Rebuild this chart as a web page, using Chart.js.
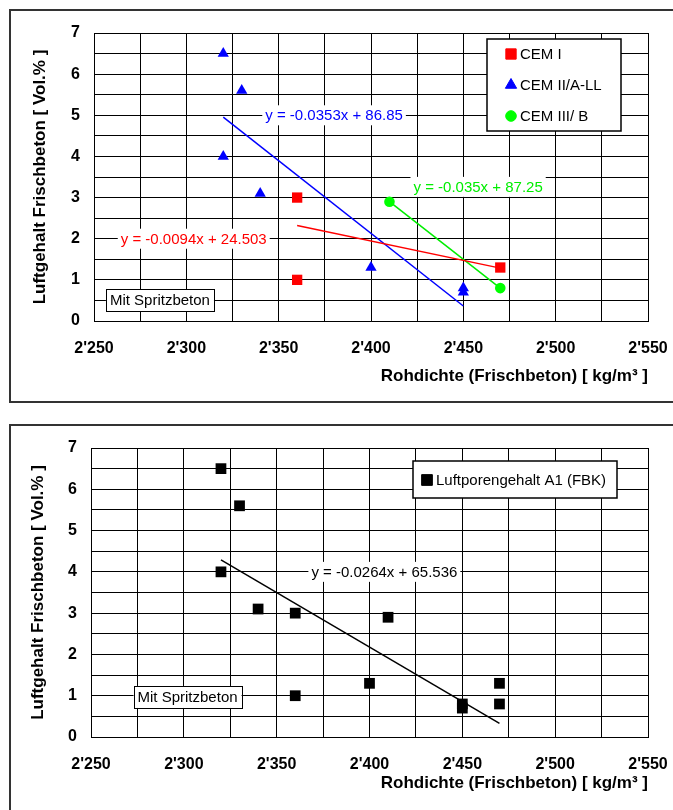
<!DOCTYPE html>
<html>
<head>
<meta charset="utf-8">
<script src="https://cdn.jsdelivr.net/npm/chart.js@4.4.1/dist/chart.umd.min.js"></script>
<style>
  html, body { margin: 0; padding: 0; background: #fff; }
  #wrap { position: relative; width: 673px; height: 810px; overflow: hidden; }
  canvas { position: absolute; left: 0; }
  #cTop { top: 0; }
  #cBottom { top: 410px; }
</style>
</head>
<body>
<div id="wrap">
  <canvas id="cTop" width="673" height="410"></canvas>
  <canvas id="cBottom" width="673" height="400"></canvas>
</div>
<script>
// Rohdichte [kg/m3] und Luftgehalt [Vol.%] je Zementart
const cem1X = [2360, 2360, 2470];
const cem1Y = [3.0, 1.0, 1.3];
const cem2X = [2320, 2330, 2320, 2340, 2400, 2450, 2450];
const cem2Y = [6.5, 5.6, 4.0, 3.1, 1.3, 0.8, 0.7];
const cem3X = [2410, 2470];
const cem3Y = [2.9, 0.8];

// alle Messungen zusammen (unteres Diagramm)
const allX = [2320, 2330, 2320, 2340, 2360, 2360, 2400, 2410, 2450, 2450, 2470, 2470];
const allY = [6.5, 5.6, 4.0, 3.1, 3.0, 1.0, 1.3, 2.9, 0.8, 0.7, 1.3, 0.8];

// lineare Trendlinien: [Steigung, Achsenabschnitt]
const trendCem1 = [-0.0094, 24.503];
const trendCem2 = [-0.0353, 86.85];
const trendCem3 = [-0.035, 87.25];
const trendAll = [-0.0264, 65.536];

// Achsenbeschriftungen
const xTickValues = [2250, 2300, 2350, 2400, 2450, 2500, 2550];
const xTickLabels = ["2'250", "2'300", "2'350", "2'400", "2'450", "2'500", "2'550"];
const yTickValues = [0, 1, 2, 3, 4, 5, 6, 7];
const yTickLabels = ['0', '1', '2', '3', '4', '5', '6', '7'];

const FONT = 'Arial, "Liberation Sans", sans-serif';

const pts = (xs, ys) => xs.map((x, i) => ({ x: x, y: ys[i] }));

function trendText(t) {
  return 'y = ' + t[0] + 'x + ' + t[1];
}

// Trendlinie vom kleinsten bis zum größten x-Wert der Reihe
function trendDataset(t, xs, color) {
  const x0 = Math.min(...xs), x1 = Math.max(...xs);
  return {
    type: 'line',
    isTrend: true,
    data: [{ x: x0, y: t[0] * x0 + t[1] }, { x: x1, y: t[0] * x1 + t[1] }],
    borderColor: color,
    borderWidth: 1.5,
    pointRadius: 0,
    fill: false
  };
}

// Rahmen, Gleichungen, Textfeld und Legende
const extrasPlugin = {
  id: 'extras',
  beforeDraw(chart, args, opts) {
    const ctx = chart.ctx;
    ctx.save();
    ctx.fillStyle = '#fff';
    ctx.fillRect(0, 0, chart.width, chart.height);
    ctx.strokeStyle = '#333';
    ctx.lineWidth = 2;
    const f = opts.frame;
    ctx.strokeRect(f[0], f[1], f[2], f[3]);
    ctx.restore();
  },
  afterDatasetsDraw(chart, args, opts) {
    const ctx = chart.ctx;
    const xs = chart.scales.x, ys = chart.scales.y;
    const area = chart.chartArea;
    ctx.save();
    ctx.font = '15px ' + FONT;
    ctx.textBaseline = 'middle';

    // Gleichungen der Trendlinien
    (opts.trendLabels || []).forEach(l => {
      const t = trendText(l.trend);
      const w = ctx.measureText(t).width;
      const px = xs.getPixelForValue(l.x), py = ys.getPixelForValue(l.y);
      ctx.fillStyle = '#fff';
      ctx.fillRect(px - w / 2 - 3, py - 10, w + 6, 20);
      ctx.fillStyle = l.color;
      ctx.textAlign = 'center';
      ctx.fillText(t, px, py + 1);
    });

    // Textfeld "Mit Spritzbeton"
    const n = opts.note;
    if (n) {
      const w = ctx.measureText(n.text).width;
      const px = xs.getPixelForValue(n.x), py = ys.getPixelForValue(n.y);
      ctx.fillStyle = '#fff';
      ctx.fillRect(px - w / 2 - 4, py - 11, w + 8, 22);
      ctx.strokeStyle = '#000';
      ctx.lineWidth = 1;
      ctx.strokeRect(Math.round(px - w / 2 - 4) + 0.5, Math.round(py - 11) + 0.5, Math.round(w + 8), 22);
      ctx.fillStyle = '#000';
      ctx.textAlign = 'center';
      ctx.fillText(n.text, px, py + 1);
    }

    // Legende
    const lg = opts.legendBox;
    if (lg) {
      const left = area.right - lg.right - lg.width;
      const top = area.top + lg.top;
      ctx.fillStyle = '#fff';
      ctx.fillRect(left, top, lg.width, lg.height);
      ctx.strokeStyle = '#000';
      ctx.lineWidth = 1.5;
      ctx.strokeRect(left, top, lg.width, lg.height);
      const items = chart.data.datasets.filter(d => !d.isTrend);
      items.forEach((d, i) => {
        const cy = top + lg.rowStart + i * lg.rowGap;
        ctx.fillStyle = d.backgroundColor;
        ctx.strokeStyle = d.borderColor;
        ctx.lineWidth = 1;
        Chart.helpers.drawPoint(ctx, { pointStyle: d.pointStyle, radius: d.pointRadius, rotation: 0, borderWidth: 1 }, left + lg.markerX, cy);
        ctx.fillStyle = '#000';
        ctx.textAlign = 'left';
        ctx.fillText(d.label, left + lg.textX, cy + 1);
      });
    }
    ctx.restore();
  }
};

function makeOptions(cfg) {
  return {
    responsive: false,
    animation: false,
    devicePixelRatio: 1,
    layout: { padding: { top: cfg.top, right: 25, left: 0, bottom: 0 } },
    plugins: {
      legend: { display: false },
      tooltip: { enabled: false },
      extras: cfg.extras
    },
    scales: {
      x: {
        type: 'linear',
        min: 2250,
        max: 2550,
        // feste Höhe, und der Tick-Abstand soll den rechten Rand nicht verschieben
        afterFit: s => { s.height = cfg.xHeight; s.paddingRight = 21; },
        grid: { color: '#000', lineWidth: 1, drawTicks: false },
        border: { color: '#000', width: 1 },
        ticks: {
          stepSize: 25,
          autoSkip: false,
          maxRotation: 0,
          padding: 18,
          color: '#000',
          font: { family: FONT, size: 16, weight: 'bold' },
          callback: v => {
            const i = xTickValues.indexOf(v);
            return i >= 0 ? xTickLabels[i] : '';
          }
        },
        title: {
          display: true,
          text: 'Rohdichte (Frischbeton) [ kg/m³ ]',
          align: 'end',
          color: '#000',
          font: { family: FONT, size: 17, weight: 'bold' },
          padding: { top: 0, bottom: cfg.xTitlePad }
        }
      },
      y: {
        min: 0,
        max: 7,
        afterFit: s => { s.width = cfg.yWidth; },
        grid: { color: '#000', lineWidth: 1, drawTicks: false },
        border: { color: '#000', width: 1 },
        ticks: {
          stepSize: 0.5,
          autoSkip: false,
          padding: 14,
          color: '#000',
          font: { family: FONT, size: 16, weight: 'bold' },
          callback: v => {
            const i = yTickValues.indexOf(v);
            return i >= 0 ? yTickLabels[i] : '';
          }
        },
        title: {
          display: true,
          text: 'Luftgehalt Frischbeton [ Vol.% ]',
          color: '#000',
          font: { family: FONT, size: 17, weight: 'bold' },
          padding: { top: cfg.yTitlePad, bottom: 0 }
        }
      }
    }
  };
}

// oberes Diagramm: nach Zementart
new Chart(document.getElementById('cTop'), {
  type: 'scatter',
  data: {
    datasets: [
      { label: 'CEM I', data: pts(cem1X, cem1Y), pointStyle: 'rect', pointRadius: 7.3,
        backgroundColor: '#ff0000', borderColor: '#ff0000', borderWidth: 0 },
      { label: 'CEM II/A-LL', data: pts(cem2X, cem2Y), pointStyle: 'triangle', pointRadius: 6.5,
        backgroundColor: '#0000ff', borderColor: '#0000ff', borderWidth: 0 },
      { label: 'CEM III/ B', data: pts(cem3X, cem3Y), pointStyle: 'circle', pointRadius: 5.3,
        backgroundColor: '#00ff00', borderColor: '#00ff00', borderWidth: 0 },
      trendDataset(trendCem1, cem1X, '#ff0000'),
      trendDataset(trendCem2, cem2X, '#0000ff'),
      trendDataset(trendCem3, cem3X, '#00ee00')
    ]
  },
  options: makeOptions({
    top: 33, xHeight: 89, yWidth: 94, xTitlePad: 23, yTitlePad: 30,
    extras: {
      frame: [10, 10, 700, 392],
      trendLabels: [
        { trend: trendCem2, x: 2380, y: 5.0, color: '#0000ff' },
        { trend: trendCem1, x: 2304, y: 2.0, color: '#ff0000' },
        { trend: trendCem3, x: 2458, y: 3.26, color: '#00ee00' }
      ],
      note: { text: 'Mit Spritzbeton', x: 2285.7, y: 0.51 },
      legendBox: { right: 27, top: 6, width: 134, height: 92, rowStart: 15, rowGap: 31, markerX: 24, textX: 33 }
    }
  }),
  plugins: [extrasPlugin]
});

// unteres Diagramm: alle Werte
new Chart(document.getElementById('cBottom'), {
  type: 'scatter',
  data: {
    datasets: [
      { label: 'Luftporengehalt A1 (FBK)', data: pts(allX, allY), pointStyle: 'rect', pointRadius: 7.6,
        backgroundColor: '#000', borderColor: '#000', borderWidth: 0 },
      trendDataset(trendAll, allX, '#000')
    ]
  },
  options: makeOptions({
    top: 38, xHeight: 73, yWidth: 91, xTitlePad: 16, yTitlePad: 28,
    extras: {
      frame: [10, 15, 700, 400],
      trendLabels: [
        { trend: trendAll, x: 2408, y: 4.0, color: '#000' }
      ],
      note: { text: 'Mit Spritzbeton', x: 2302, y: 0.97 },
      legendBox: { right: 31, top: 13, width: 204, height: 37, rowStart: 19, rowGap: 31, markerX: 14, textX: 23 }
    }
  }),
  plugins: [extrasPlugin]
});
</script>
</body>
</html>
